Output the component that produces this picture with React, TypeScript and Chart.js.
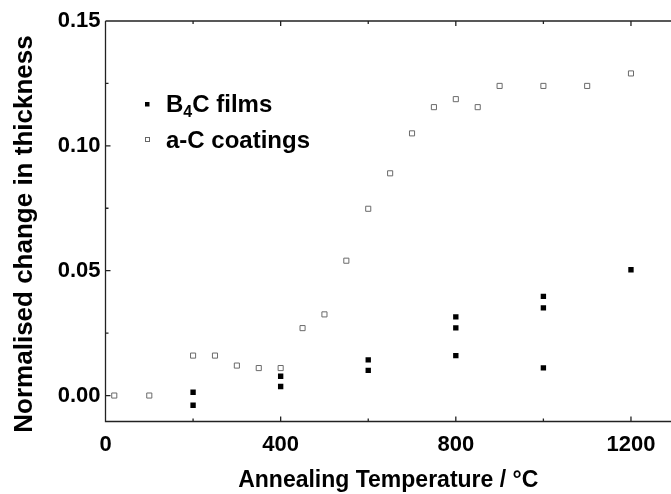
import React, { useEffect, useRef } from "react";
import { Chart, registerables } from "chart.js";

Chart.register(...registerables);

const aCTemps = [20, 100, 200, 250, 300, 350, 400, 450, 500, 550, 600, 650, 700, 750, 800, 850, 900, 1000, 1100, 1200];
const aCValues = [0, 0, 0.016, 0.016, 0.012, 0.011, 0.011, 0.027, 0.0325, 0.054, 0.0748, 0.089, 0.105, 0.1155, 0.1187, 0.1155, 0.124, 0.124, 0.124, 0.129];
const b4cTemps = [200, 200, 400, 400, 600, 600, 800, 800, 800, 1000, 1000, 1000, 1200];
const b4cValues = [0.0013, -0.0039, 0.0077, 0.0036, 0.0143, 0.0101, 0.0315, 0.0271, 0.016, 0.0397, 0.0351, 0.0111, 0.0504];

const xMajorTicks = [0, 400, 800, 1200];
const xMinorTicks = [200, 600, 1000];
const yMajorTicks = [0, 0.05, 0.1, 0.15];
const yMinorTicks = [0.025, 0.075, 0.125];

const xTitle = "Annealing Temperature / °C";
const yTitle = "Normalised change in thickness";
const legendB4C = ["B", "4", "C films"];
const legendAC = "a-C coatings";

const FONT = "'Liberation Sans', Arial, sans-serif";

const framePlugin = {
  id: "frame",
  afterDraw(chart: any) {
    const ctx = chart.ctx;
    const { left, top, bottom } = chart.chartArea;
    const right = chart.width;
    const xs = chart.scales.x;
    const ys = chart.scales.y;
    ctx.save();
    ctx.strokeStyle = "#222";
    ctx.lineWidth = 1.3;
    ctx.beginPath();
    ctx.moveTo(left, top);
    ctx.lineTo(right, top);
    ctx.moveTo(left, top);
    ctx.lineTo(left, bottom);
    ctx.lineTo(right, bottom);
    const drawX = (vals: number[], len: number) => {
      vals.forEach((v) => {
        const px = xs.getPixelForValue(v);
        ctx.moveTo(px, bottom);
        ctx.lineTo(px, bottom - len);
        ctx.moveTo(px, top);
        ctx.lineTo(px, top + len);
      });
    };
    drawX(xMajorTicks, 5);
    drawX(xMinorTicks, 3);
    const drawY = (vals: number[], len: number) => {
      vals.forEach((v) => {
        const py = ys.getPixelForValue(v);
        ctx.moveTo(left, py);
        ctx.lineTo(left + len, py);
      });
    };
    drawY(yMajorTicks, 5);
    drawY(yMinorTicks, 3);
    ctx.stroke();

    ctx.fillStyle = "#000";
    ctx.font = `bold 23px ${FONT}`;
    ctx.textAlign = "center";
    ctx.textBaseline = "middle";
    ctx.fillText(xTitle, (left + right) / 2, 481);
    ctx.save();
    ctx.translate(25, 234);
    ctx.rotate(-Math.PI / 2);
    ctx.font = `bold 26px ${FONT}`;
    ctx.fillText(yTitle, 0, 0);
    ctx.restore();

    ctx.fillStyle = "#000";
    ctx.fillRect(145, 102, 4.5, 4.5);
    ctx.strokeStyle = "#666";
    ctx.lineWidth = 1;
    ctx.strokeRect(145.5, 137.5, 4, 4);
    ctx.textAlign = "left";
    ctx.textBaseline = "alphabetic";
    ctx.font = `bold 24px ${FONT}`;
    let x = 166;
    ctx.fillText(legendB4C[0], x, 111.5);
    x += ctx.measureText(legendB4C[0]).width;
    ctx.font = `bold 16px ${FONT}`;
    ctx.fillText(legendB4C[1], x, 117);
    x += ctx.measureText(legendB4C[1]).width;
    ctx.font = `bold 24px ${FONT}`;
    ctx.fillText(legendB4C[2], x, 111.5);
    ctx.fillText(legendAC, 166, 147.5);
    ctx.restore();
  },
};

export default function App() {
  const ref = useRef<HTMLCanvasElement | null>(null);
  useEffect(() => {
    if (!ref.current) return;
    const chart = new Chart(ref.current, {
      type: "scatter",
      data: {
        datasets: [
          {
            label: "a-C coatings",
            data: aCTemps.map((t, i) => ({ x: t, y: aCValues[i] })),
            pointStyle: "rect",
            pointRadius: 3.6,
            backgroundColor: "#fff",
            borderColor: "#6a6a6a",
            borderWidth: 1,
          },
          {
            label: "B4C films",
            data: b4cTemps.map((t, i) => ({ x: t, y: b4cValues[i] })),
            pointStyle: "rect",
            pointRadius: 3.8,
            backgroundColor: "#000",
            borderColor: "#000",
            borderWidth: 0,
          },
        ],
      },
      options: {
        animation: false,
        responsive: false,
        devicePixelRatio: 1,
        layout: { padding: { top: 21, right: 0, left: 0, bottom: 0 } },
        plugins: { legend: { display: false }, tooltip: { enabled: false } },
        scales: {
          x: {
            type: "linear",
            min: 0,
            max: 1280,
            grid: { display: false, drawTicks: false },
            border: { display: false },
            afterBuildTicks: (s: any) => {
              s.ticks = xMajorTicks.map((v) => ({ value: v }));
            },
            afterFit: (s: any) => {
              s.height = 72.5;
            },
            ticks: {
              color: "#000",
              padding: 10,
              maxRotation: 0,
              font: { family: FONT, size: 22, weight: "bold" },
              callback: (v: any) => String(v),
            },
          },
          y: {
            type: "linear",
            min: -0.0104,
            max: 0.15,
            grid: { display: false, drawTicks: false },
            border: { display: false },
            afterBuildTicks: (s: any) => {
              s.ticks = yMajorTicks.map((v) => ({ value: v }));
            },
            afterFit: (s: any) => {
              s.width = 105.5;
            },
            ticks: {
              color: "#000",
              padding: 5,
              font: { family: FONT, size: 22, weight: "bold" },
              callback: (v: any) => Number(v).toFixed(2),
            },
          },
        },
      },
      plugins: [framePlugin],
    } as any);
    return () => chart.destroy();
  }, []);
  return (
    <div style={{ position: "absolute", left: 0, top: 0, width: 671, height: 494 }}>
      <canvas ref={ref} width={671} height={494} style={{ display: "block" }} />
    </div>
  );
}
